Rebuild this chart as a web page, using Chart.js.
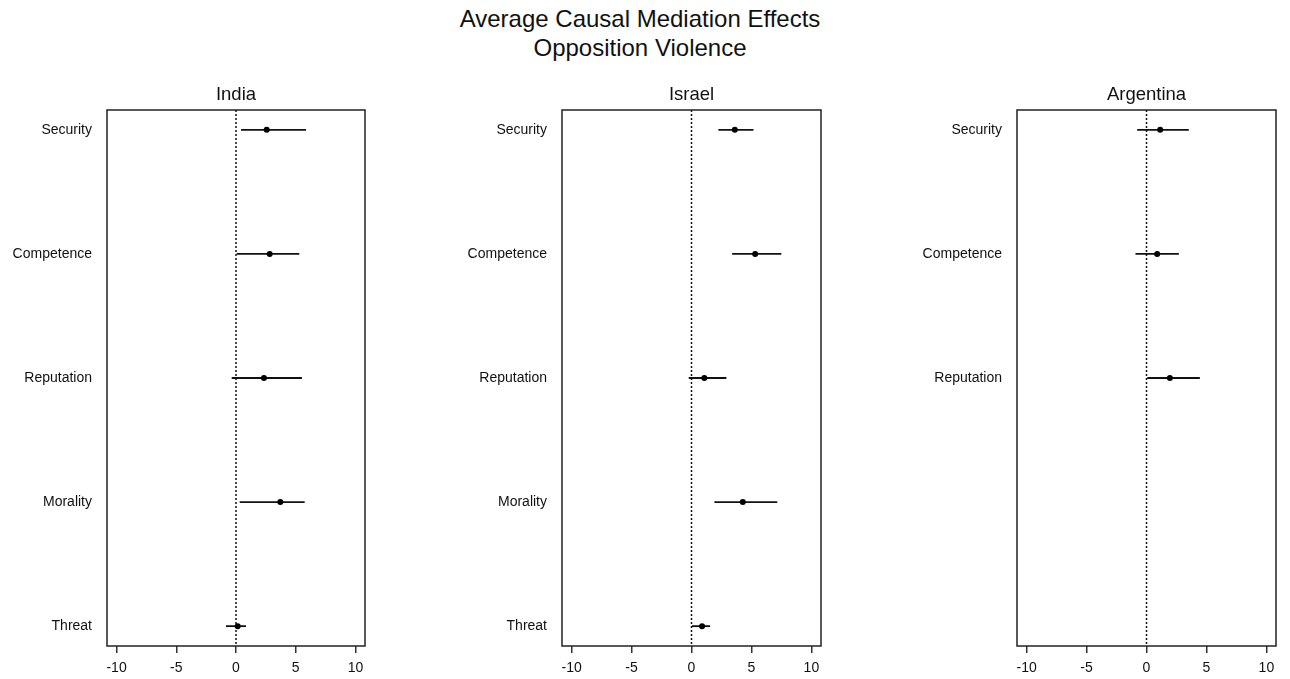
<!DOCTYPE html>
<html>
<head>
<meta charset="utf-8">
<script src="https://cdn.jsdelivr.net/npm/chart.js@4"></script>
<style>
  html, body { margin: 0; padding: 0; background: #fff; }
  #wrap { position: relative; width: 1290px; height: 679px; overflow: hidden;
          font-family: "Liberation Sans", Arial, sans-serif; }
  .head { position: absolute; left: 0; width: 1280px; text-align: center;
          font-size: 24px; line-height: 24px; color: #111; }
  .panel { position: absolute; top: 0; width: 380px; height: 679px; }
</style>
</head>
<body>
<div id="wrap">
  <div class="head" style="top:7px">Average Causal Mediation Effects</div>
  <div class="head" style="top:36px">Opposition Violence</div>
  <div class="panel" style="left:0px"><canvas id="c0" width="380" height="679"></canvas></div>
  <div class="panel" style="left:455px"><canvas id="c1" width="380" height="679"></canvas></div>
  <div class="panel" style="left:910px"><canvas id="c2" width="380" height="679"></canvas></div>
</div>
<script>
// Mediators, listed top to bottom
const rows = ["Security", "Competence", "Reputation", "Morality", "Threat"];
const xTicks = [-10, -5, 0, 5, 10];

// India: point estimates and 95% interval bounds
const indiaRows = ["Security", "Competence", "Reputation", "Morality", "Threat"];
const indiaEst  = [2.57, 2.82, 2.34, 3.71, 0.14];
const indiaLow  = [0.42, 0.06, -0.36, 0.31, -0.84];
const indiaHigh = [5.86, 5.30, 5.52, 5.75, 0.84];

// Israel
const israelRows = ["Security", "Competence", "Reputation", "Morality", "Threat"];
const israelEst  = [3.61, 5.31, 1.07, 4.28, 0.88];
const israelLow  = [2.24, 3.39, -0.23, 1.91, 0.04];
const israelHigh = [5.17, 7.49, 2.91, 7.15, 1.55];

// Argentina
const argentinaRows = ["Security", "Competence", "Reputation"];
const argentinaEst  = [1.14, 0.89, 1.95];
const argentinaLow  = [-0.78, -0.92, 0.06];
const argentinaHigh = [3.53, 2.70, 4.45];

const FAMILY = '"Liberation Sans", Arial, sans-serif';
const INK = '#111';

// Zero line, interval segments and the panel frame
const framePlugin = {
  id: 'frame',
  beforeDatasetsDraw(chart) {
    const { ctx, chartArea: a, scales: { x, y } } = chart;
    ctx.save();
    const x0 = x.getPixelForValue(0);
    ctx.strokeStyle = INK;
    ctx.lineWidth = 1.5;
    ctx.setLineDash([2, 2]);
    ctx.beginPath();
    ctx.moveTo(x0, a.top);
    ctx.lineTo(x0, a.bottom);
    ctx.stroke();
    ctx.setLineDash([]);
    ctx.lineWidth = 1.8;
    chart.data.datasets[0].data.forEach(d => {
      const py = y.getPixelForValue(d.y);
      ctx.beginPath();
      ctx.moveTo(x.getPixelForValue(d.lo), py);
      ctx.lineTo(x.getPixelForValue(d.hi), py);
      ctx.stroke();
    });
    ctx.restore();
  },
  afterDraw(chart) {
    const { ctx, chartArea: a } = chart;
    ctx.save();
    ctx.strokeStyle = '#222';
    ctx.lineWidth = 1.5;
    ctx.strokeRect(a.left, a.top, a.right - a.left, a.bottom - a.top);
    ctx.restore();
  }
};

function makePanel(id, name, labels, est, low, high, padRight) {
  const pos = lab => rows.length - rows.indexOf(lab);
  const points = labels.map((lab, i) => ({ x: est[i], y: pos(lab), lo: low[i], hi: high[i] }));
  const font = { family: FAMILY, size: 14 };
  new Chart(document.getElementById(id), {
    type: 'scatter',
    data: {
      datasets: [{
        data: points,
        pointRadius: 3,
        pointHoverRadius: 3,
        backgroundColor: '#000',
        borderColor: '#000',
        borderWidth: 0
      }]
    },
    options: {
      responsive: false,
      animation: false,
      events: [],
      layout: { padding: { left: 0, right: padRight, top: 0, bottom: 0 } },
      plugins: {
        legend: { display: false },
        tooltip: { enabled: false },
        title: {
          display: true,
          text: name,
          fullSize: false,
          color: INK,
          font: { family: FAMILY, size: 18.5, weight: 'normal' },
          padding: { top: 84, bottom: 3.8 }
        }
      },
      scales: {
        x: {
          type: 'linear',
          min: -10.8,
          max: 10.8,
          afterBuildTicks: s => { s.ticks = xTicks.map(v => ({ value: v })); },
          afterFit: s => { s.height = 33; },
          grid: { drawOnChartArea: false, drawTicks: true, tickLength: 7, color: '#333', lineWidth: 1.5 },
          border: { display: false },
          ticks: { font, color: INK, padding: 7, maxRotation: 0, autoSkip: false }
        },
        y: {
          type: 'linear',
          min: 0.84,
          max: 5.16,
          afterBuildTicks: s => { s.ticks = labels.map(l => ({ value: pos(l) })); },
          afterFit: s => { s.width = 107; },
          grid: { display: false, drawTicks: false },
          border: { display: false },
          ticks: {
            font, color: INK, padding: 15, autoSkip: false,
            callback: v => rows[rows.length - v]
          }
        }
      }
    },
    plugins: [framePlugin]
  });
}

makePanel('c0', 'India', indiaRows, indiaEst, indiaLow, indiaHigh, 15);
makePanel('c1', 'Israel', israelRows, israelEst, israelLow, israelHigh, 14);
makePanel('c2', 'Argentina', argentinaRows, argentinaEst, argentinaLow, argentinaHigh, 14);
</script>
</body>
</html>
